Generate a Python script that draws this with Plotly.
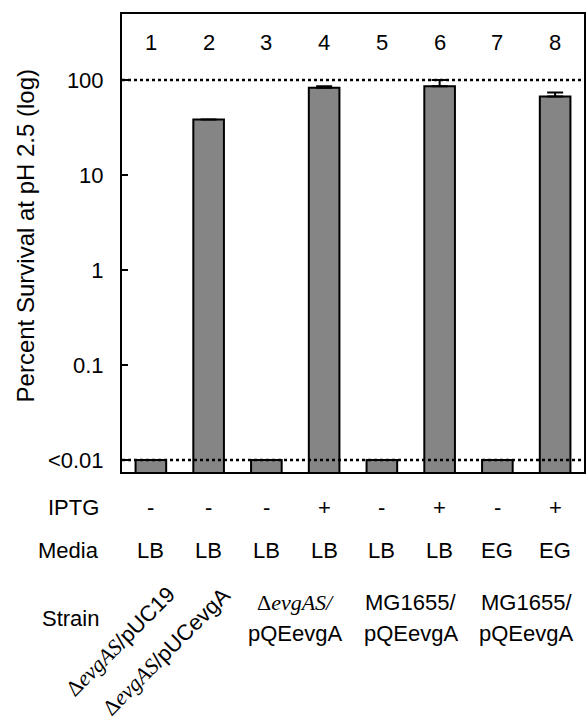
import plotly.graph_objects as go

lanes = [1, 2, 3, 4, 5, 6, 7, 8]
survival = [0.0100, 38.5, 0.0100, 83, 0.0100, 86, 0.0100, 67]
err_plus = [None, None, None, 3, None, 14, None, 7]
iptg = ["-", "-", "-", "+", "-", "+", "-", "+"]
media = ["LB", "LB", "LB", "LB", "LB", "LB", "EG", "EG"]
tick_vals = [0.01, 0.1, 1, 10, 100]
tick_text = ["<0.01", "0.1", "1", "10", "100"]
ref_lines = [100, 0.01]

W, H = 588, 722
L, R, T, B = 122, 2, 14, 250
pw, ph = W - L - R, H - T - B

def px(xp):
    return (xp - L) / pw

def py(yp):
    return (H - B - yp) / ph

FONT = "Liberation Sans, Arial, Helvetica, sans-serif"
SERIF = "'Liberation Serif', 'Times New Roman', serif"
FS = 22

fig = go.Figure()
fig.add_trace(go.Bar(
    x=lanes, y=survival, width=0.53,
    marker=dict(color="#858585", line=dict(color="black", width=2)),
    error_y=dict(type="data", array=err_plus, arrayminus=[0] * 8, symmetric=False,
                 color="black", thickness=2, width=8),
    showlegend=False,
))
for v in ref_lines:
    fig.add_trace(go.Scatter(
        x=[0.5, 8.5], y=[v, v], mode="lines",
        line=dict(color="black", width=2.4, dash="dot"),
        showlegend=False, hoverinfo="skip",
    ))

def A(x, y, text, xref="paper", **kw):
    d = dict(x=x, xref=xref, y=y, yref="paper", text=text, showarrow=False,
             xanchor="center", yanchor="middle", font=dict(size=FS))
    d.update(kw)
    return d

ann = []
for i, n in enumerate(lanes):
    ann.append(A(n, py(43), str(n), xref="x"))
    ann.append(A(n, py(507), iptg[i], xref="x"))
    ann.append(A(n, py(550), media[i], xref="x"))

for lbl, yp in [("IPTG", 507), ("Media", 550), ("Strain", 618)]:
    ann.append(A(px(101), py(yp), lbl, xanchor="right"))

ital = lambda s: f"<span style=\"font-family:{SERIF}\"><i>{s}</i></span>"
delta = f"<span style=\"font-family:{SERIF}\">Δ</span>"

ann.append(A(px(120), py(641), delta + ital("evgAS") + "/pUC19", textangle=-45))
ann.append(A(px(166), py(651), delta + ital("evgAS") + "/pUCevgA", textangle=-45))

groups = [(3.5, delta + ital("evgAS/"), "pQEevgA"),
          (5.5, "MG1655/", "pQEevgA"),
          (7.5, "MG1655/", "pQEevgA")]
for gx, l1, l2 in groups:
    ann.append(A(gx, py(602), l1, xref="x"))
    ann.append(A(gx, py(633), l2, xref="x"))

ann.append(A(px(25), py(236), "Percent Survival at pH 2.5 (log)", textangle=-90,
             font=dict(size=24)))

fig.update_layout(
    width=W, height=H,
    margin=dict(l=L, r=R, t=T, b=B),
    paper_bgcolor="white", plot_bgcolor="white",
    font=dict(family=FONT, size=FS, color="black"),
    annotations=ann,
    xaxis=dict(range=[0.5, 8.5], showticklabels=False, ticks="", showgrid=False,
               zeroline=False, showline=True, linecolor="black", linewidth=2, mirror=True,
               fixedrange=True),
    yaxis=dict(type="log", range=[-2.126, 2.695], tickvals=tick_vals, ticktext=tick_text,
               ticks="inside", ticklen=6, tickwidth=2, tickcolor="black",
               showgrid=False, zeroline=False, showline=True, linecolor="black",
               linewidth=2, mirror=True, ticklabelstandoff=12,
               tickfont=dict(size=FS), fixedrange=True),
)

fig.write_html("out.html", config={"displayModeBar": False},
               post_script="document.body.style.margin='0';document.body.style.overflow='hidden';")
